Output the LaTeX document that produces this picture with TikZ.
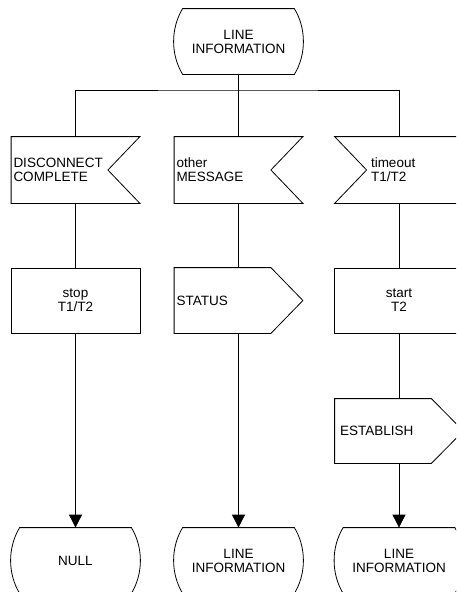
\documentclass[tikz,border=0pt]{standalone}
\usepackage{fontspec}
\setmainfont{Liberation Sans}
\usetikzlibrary{arrows.meta}
\newcommand\stateoutline[1]{%
  \draw ([xshift=9pt]#1.north west) -- ([xshift=-9pt]#1.north east)
    .. controls ([xshift=3pt,yshift=-20pt]#1.north east) and ([xshift=3pt,yshift=20pt]#1.south east) .. ([xshift=-9pt]#1.south east)
    -- ([xshift=9pt]#1.south west)
    .. controls ([xshift=-3pt,yshift=20pt]#1.south west) and ([xshift=-3pt,yshift=-20pt]#1.north west) .. cycle;}
\begin{document}
\begin{tikzpicture}[x=1pt,y=-1pt, line width=0.8pt,
  every node/.style={font=\fontsize{13.5}{14}\selectfont, inner sep=0pt},
  statebox/.style={minimum width=129pt, minimum height=65pt, align=center},
  taskbox/.style={draw, minimum width=129pt, minimum height=65pt, align=center},
  lbox/.style={text width=124pt, inner xsep=2pt, minimum height=66pt, align=left},
  arr/.style={-{Triangle[length=13pt,width=13pt]}}]
\useasboundingbox (0,0) rectangle (456,592);
\clip (0,0) rectangle (456,592);

% nodes
\node[statebox] (top) at (238.5,41.5) {LINE\\INFORMATION};
\node[lbox] (in1) at (75.5,170) {DISCONNECT\\COMPLETE};
\node[lbox] (in2) at (238.5,170) {other\\MESSAGE};
\node[lbox] (in3) at (399,170) {\hspace*{34pt}timeout\\\hspace*{34pt}T1/T2};
\node[taskbox] (t1) at (75.5,300.5) {stop\\T1/T2};
\node[lbox, minimum height=65pt] (o2) at (238.5,300.5) {STATUS};
\node[taskbox] (t3) at (399,300.5) {start\\T2};
\node[lbox, minimum height=64pt] (e3) at (399,431) {\hspace*{3pt}ESTABLISH};
\node[statebox] (n1) at (75.5,560.5) {NULL};
\node[statebox] (n2) at (238.5,560.5) {LINE\\INFORMATION};
\node[statebox] (n3) at (399,560.5) {LINE\\INFORMATION};

% outlines
\stateoutline{top}
\stateoutline{n1}
\stateoutline{n2}
\stateoutline{n3}
\draw (in1.north west) -- (in1.north east) -- ([xshift=-32pt]in1.east) -- (in1.south east) -- (in1.south west) -- cycle;
\draw (in2.north west) -- (in2.north east) -- ([xshift=-32pt]in2.east) -- (in2.south east) -- (in2.south west) -- cycle;
\draw (in3.north west) -- (in3.north east) -- (in3.south east) -- (in3.south west) -- ([xshift=32pt]in3.west) -- cycle;
\draw (o2.north west) -- ([xshift=-32pt]o2.north east) -- (o2.east) -- ([xshift=-32pt]o2.south east) -- (o2.south west) -- cycle;
\draw (e3.north west) -- ([xshift=-32pt]e3.north east) -- (e3.east) -- ([xshift=-32pt]e3.south east) -- (e3.south west) -- cycle;

% connectors
\coordinate (bus) at (238.5,90);
\draw (top.south) -- (in2.north);
\draw (in1.north) |- (bus) -| (in3.north);
\draw (in1.south) -- (t1.north);
\draw (in2.south) -- (o2.north);
\draw (in3.south) -- (t3.north);
\draw (t3.south) -- (e3.north);
\draw[arr] (t1.south) -- (n1.north);
\draw[arr] (o2.south) -- (n2.north);
\draw[arr] (e3.south) -- (n3.north);
\end{tikzpicture}
\end{document}
